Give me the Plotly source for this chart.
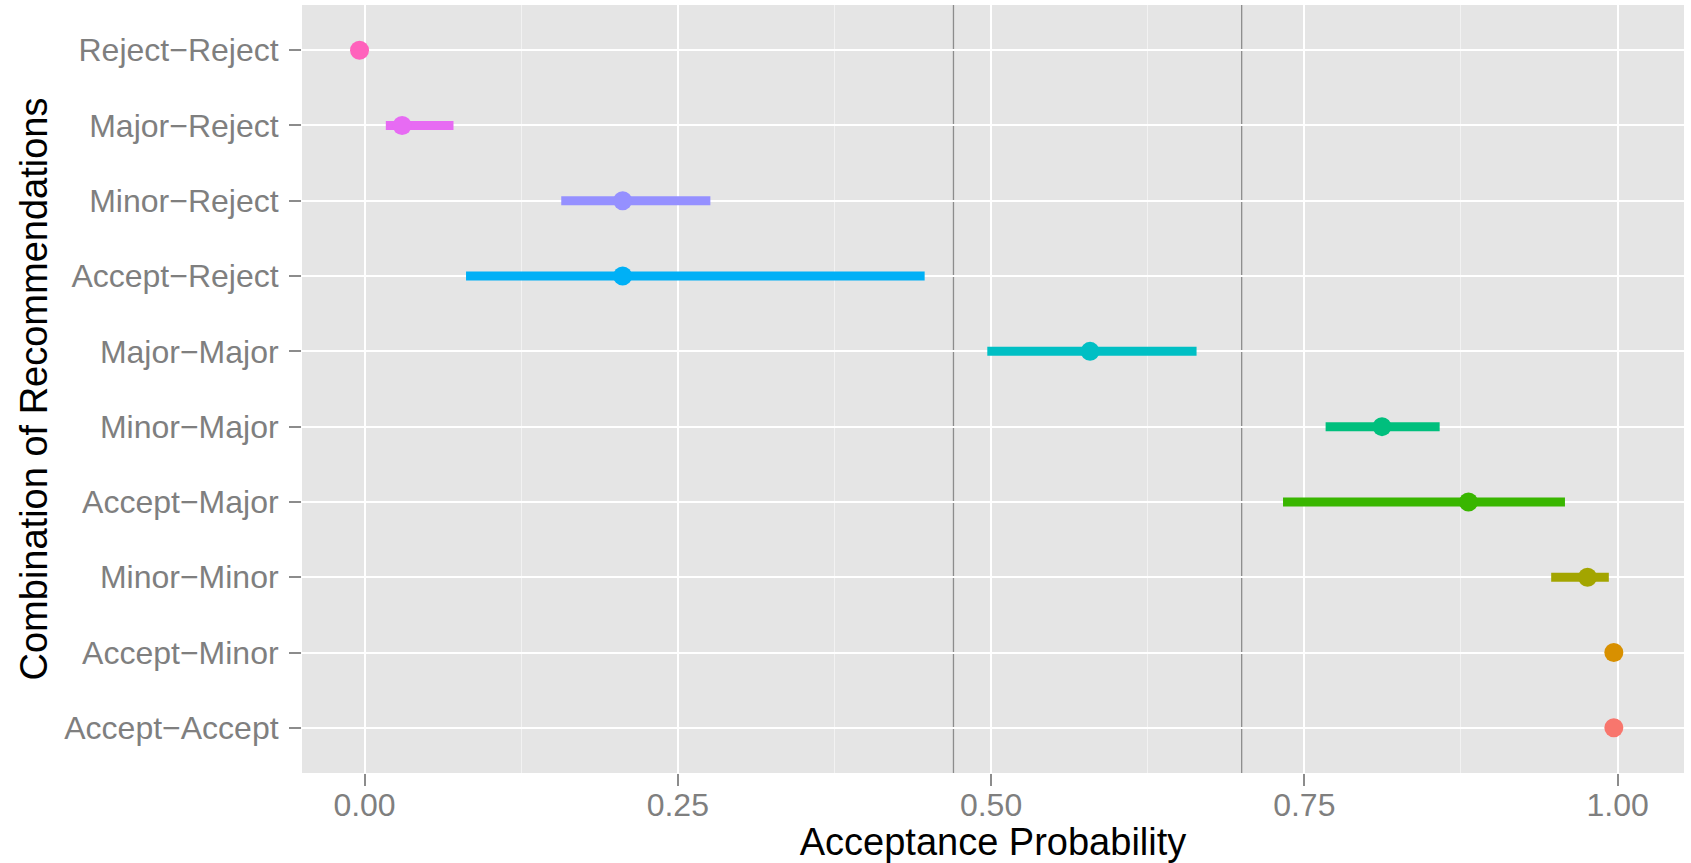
import plotly.graph_objects as go

categories = ["Reject\u2212Reject", "Major\u2212Reject", "Minor\u2212Reject", "Accept\u2212Reject",
              "Major\u2212Major", "Minor\u2212Major", "Accept\u2212Major", "Minor\u2212Minor",
              "Accept\u2212Minor", "Accept\u2212Accept"]
estimate = [-0.004, 0.030, 0.206, 0.206, 0.579, 0.812, 0.881, 0.976, 0.997, 0.997]
lower = [-0.004, 0.017, 0.157, 0.081, 0.497, 0.767, 0.733, 0.947, 0.997, 0.997]
upper = [-0.004, 0.071, 0.276, 0.447, 0.664, 0.858, 0.958, 0.993, 0.997, 0.997]
colors = ["#FF62BC", "#E76BF3", "#9590FF", "#00B0F6", "#00BFC4",
          "#00BF7D", "#39B600", "#A3A500", "#D89000", "#F8766D"]
vlines = [0.47, 0.70]
xticks = [0.0, 0.25, 0.5, 0.75, 1.0]
xticklabels = ["0.00", "0.25", "0.50", "0.75", "1.00"]

fig = go.Figure()
for c, e, lo, hi, col in zip(categories, estimate, lower, upper, colors):
    if hi > lo:
        fig.add_trace(go.Scatter(x=[lo, hi], y=[c, c], mode="lines",
                                 line=dict(color=col, width=9), hoverinfo="skip",
                                 showlegend=False))
    fig.add_trace(go.Scatter(x=[e], y=[c], mode="markers",
                             marker=dict(color=col, size=19, line=dict(width=0)),
                             showlegend=False))

for v in vlines:
    fig.add_shape(type="line", x0=v, x1=v, y0=0, y1=1, xref="x", yref="paper",
                  line=dict(color="#8C8C8C", width=1.3), layer="between")

tick_font = dict(family="Liberation Sans, Arial, sans-serif", size=32, color="#7F7F7F")
title_font = dict(family="Liberation Sans, Arial, sans-serif", size=38, color="#000000")

fig.update_layout(
    width=1691, height=863,
    paper_bgcolor="white", plot_bgcolor="#E5E5E5",
    margin=dict(l=302, r=7, t=5, b=90),
    xaxis=dict(range=[-0.0499, 1.053], tickvals=xticks, ticktext=xticklabels,
               showgrid=True, gridcolor="white", gridwidth=2,
               minor=dict(dtick=0.125, tick0=0, showgrid=True, gridcolor="#F2F2F2", gridwidth=1),
               zeroline=False, ticks="outside", ticklen=12, tickcolor="#8C8C8C", tickwidth=1.5,
               tickfont=tick_font, ticklabelstandoff=-8,
               title=dict(text="Acceptance Probability", font=title_font, standoff=2),
               automargin=False),
    yaxis=dict(type="category", categoryorder="array", categoryarray=categories[::-1],
               range=[-0.6, 9.6], showgrid=True, gridcolor="white", gridwidth=2,
               zeroline=False, ticks="outside", ticklen=12, tickcolor="#8C8C8C", tickwidth=1.5,
               tickfont=tick_font, ticklabelstandoff=4,
               title=dict(text="Combination of Recommendations", font=title_font, standoff=4),
               automargin=False),
)

fig.write_html("out.html", config={"displayModeBar": False},
               post_script="document.body.style.margin='0px';")
